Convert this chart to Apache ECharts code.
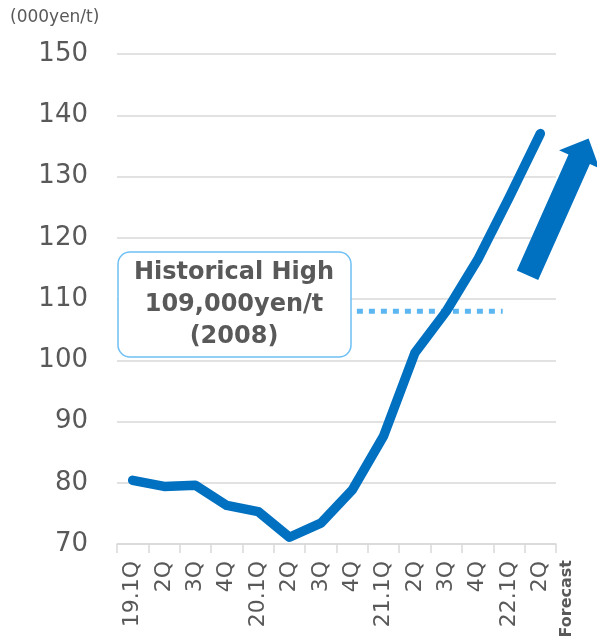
<!DOCTYPE html>
<html>
<head>
<meta charset="utf-8">
<script src="https://cdn.jsdelivr.net/npm/echarts@6/dist/echarts.min.js"></script>
<style>
  html, body { margin: 0; padding: 0; background: #fff; }
  #chart { width: 597px; height: 640px; }
</style>
</head>
<body>
<div id="chart"></div>
<script>
// quarters
const quarters = ['19.1Q', '2Q', '3Q', '4Q', '20.1Q', '2Q', '3Q', '4Q', '21.1Q', '2Q', '3Q', '4Q', '22.1Q', '2Q']
// price (000yen/t)
const prices = [80.4, 79.4, 79.6, 76.3, 75.3, 71.1, 73.4, 78.8, 87.6, 101.2, 108, 116.4, 126.5, 137]
// historical high reference line (x in category units, y value)
const highLineX = [7.65, 12.3]
const highLineY = 108
const yTicks = { min: 70, max: 150, interval: 10 }

const gray = '#595959'
const blue = '#0070c0'
const font = 'DejaVu Sans, Verdana, sans-serif'

const chart = echarts.init(document.getElementById('chart'))

const option = {
  animation: false,
  grid: { left: 117, right: 41, top: 54, bottom: 96 },
  xAxis: [
    {
      type: 'category',
      data: quarters,
      boundaryGap: true,
      axisLine: { lineStyle: { color: '#d9d9d9', width: 1.5 } },
      axisTick: { show: true, length: 9, lineStyle: { color: '#d9d9d9', width: 1.5 } },
      axisLabel: { rotate: 90, margin: 17, color: gray, fontSize: 22, fontFamily: font, interval: 0 },
    },
    {
      type: 'value',
      min: 0,
      max: quarters.length,
      show: false,
    },
  ],
  yAxis: {
    type: 'value',
    min: yTicks.min,
    max: yTicks.max,
    interval: yTicks.interval,
    axisLine: { show: false },
    axisTick: { show: false },
    axisLabel: { color: gray, fontSize: 26, fontFamily: font, margin: 29 },
    splitLine: { lineStyle: { color: '#d9d9d9', width: 1.5 } },
  },
  series: [
    {
      name: 'high',
      type: 'line',
      xAxisIndex: 1,
      data: highLineX.map(x => [x, highLineY]),
      symbol: 'none',
      lineStyle: { color: '#5cb6f2', width: 5, type: [6, 6], cap: 'butt' },
      z: 1,
    },
    {
      name: 'price',
      type: 'line',
      data: prices,
      symbol: 'none',
      lineStyle: { color: blue, width: 9.5, cap: 'round', join: 'round' },
      z: 3,
    },
  ],
  graphic: [
    {
      type: 'text',
      left: 10,
      top: 9,
      style: { text: '(000yen/t)', fill: gray, font: '17px ' + font },
    },
    {
      type: 'rect',
      shape: { x: 118, y: 252, width: 233, height: 105, r: 12 },
      style: { fill: '#fff', stroke: '#6ec0f5', lineWidth: 1.5 },
      z: 10,
    },
    {
      type: 'text',
      x: 234,
      y: 305,
      style: {
        text: 'Historical High\n109,000yen/t\n(2008)',
        fill: gray,
        font: 'bold 24px ' + font,
        align: 'center',
        verticalAlign: 'middle',
        lineHeight: 32,
      },
      z: 11,
    },
    // forecast arrow
    {
      type: 'polygon',
      shape: {
        points: [
          [516.8, 270.5], [568.5, 154.5], [559.1, 150.3], [588.6, 138.4],
          [599.3, 168.3], [589.9, 164.1], [538.2, 280.1],
        ],
      },
      style: { fill: blue },
      z: 10,
    },
    {
      type: 'text',
      x: 567,
      y: 560,
      rotation: Math.PI / 2,
      style: {
        text: 'Forecast',
        fill: gray,
        font: 'bold 16px ' + font,
        align: 'right',
        verticalAlign: 'middle',
      },
    },
  ],
}

chart.setOption(option)
</script>
</body>
</html>
